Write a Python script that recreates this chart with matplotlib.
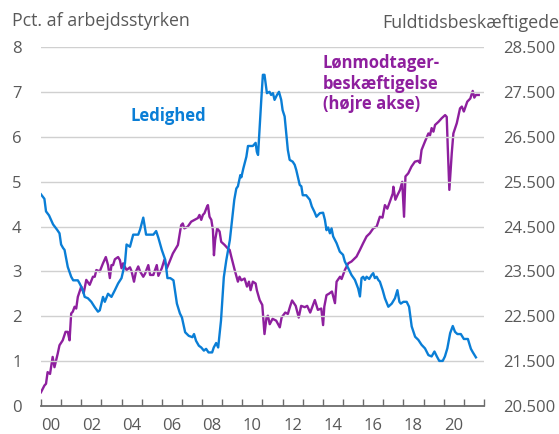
import matplotlib
matplotlib.use("Agg")
import matplotlib.pyplot as plt
from matplotlib.ticker import FuncFormatter, FixedLocator

plt.rcParams['font.family'] = ['Open Sans', 'DejaVu Sans']

# Ledighed (pct. af arbejdsstyrken), decimal year
led_t = [2000.00, 2000.17, 2000.25, 2000.4, 2000.6, 2000.8, 2000.92, 2001.0, 2001.1, 2001.17,
         2001.33, 2001.5, 2001.6, 2001.83, 2001.92, 2002.08, 2002.17, 2002.33, 2002.5, 2002.67,
         2002.83, 2002.92, 2003.08, 2003.17, 2003.33, 2003.5, 2003.67, 2003.83, 2004.0, 2004.17,
         2004.25, 2004.42, 2004.58, 2004.83, 2004.92, 2005.08, 2005.22, 2005.42, 2005.58, 2005.72,
         2005.83, 2006.0, 2006.17, 2006.28, 2006.42, 2006.58, 2006.75, 2006.9, 2007.0, 2007.16,
         2007.34, 2007.52, 2007.6, 2007.7, 2007.84, 2007.96, 2008.09, 2008.2, 2008.32, 2008.5,
         2008.58, 2008.7, 2008.8, 2008.94, 2009.08, 2009.2, 2009.38, 2009.5, 2009.6, 2009.7,
         2009.78, 2009.9, 2009.95, 2010.05, 2010.2, 2010.28, 2010.52, 2010.66, 2010.72, 2010.78,
         2010.86, 2010.94, 2011.02, 2011.1, 2011.22, 2011.35, 2011.43, 2011.52, 2011.6, 2011.72,
         2011.82, 2011.93, 2012.0, 2012.1, 2012.18, 2012.26, 2012.35, 2012.5, 2012.6, 2012.68,
         2012.85, 2012.93, 2013.0, 2013.17, 2013.35, 2013.45, 2013.58, 2013.68, 2013.85, 2014.01,
         2014.1, 2014.18, 2014.26, 2014.35, 2014.43, 2014.51, 2014.68, 2014.84, 2015.0, 2015.09,
         2015.26, 2015.42, 2015.59, 2015.75, 2015.84, 2015.92, 2016.0, 2016.09, 2016.17, 2016.3,
         2016.42, 2016.5, 2016.58, 2016.67, 2016.75, 2016.83, 2016.97, 2017.08, 2017.25, 2017.42,
         2017.58, 2017.7, 2017.8, 2017.87, 2018.0, 2018.16, 2018.28, 2018.41, 2018.58, 2018.74,
         2018.9, 2019.07, 2019.24, 2019.4, 2019.54, 2019.66, 2019.78, 2019.95, 2020.06, 2020.18,
         2020.32, 2020.45, 2020.56, 2020.68, 2020.85, 2021.0, 2021.2, 2021.35, 2021.45, 2021.6]
led_v = [4.72, 4.62, 4.34, 4.25, 4.05, 3.93, 3.85, 3.6, 3.52, 3.48,
         3.1, 2.88, 2.8, 2.8, 2.73, 2.58, 2.43, 2.4, 2.32, 2.2,
         2.1, 2.13, 2.43, 2.32, 2.5, 2.43, 2.58, 2.73, 2.85, 3.18,
         3.6, 3.55, 3.82, 3.82, 3.93, 4.2, 3.82, 3.82, 3.82, 3.9,
         3.75, 3.48, 3.26, 2.85, 2.85, 2.8, 2.28, 2.06, 1.97, 1.64,
         1.56, 1.53, 1.6, 1.45, 1.34, 1.3, 1.23, 1.27, 1.19, 1.19,
         1.3, 1.4, 1.3, 1.9, 2.87, 3.24, 3.7, 4.2, 4.6, 4.85,
         4.9, 5.15, 5.1, 5.3, 5.56, 5.8, 5.8, 5.87, 5.67, 5.6,
         6.23, 6.83, 7.39, 7.39, 6.98, 7.01, 6.94, 6.98, 6.83, 6.94,
         7.01, 6.83, 6.6, 6.46, 6.08, 5.71, 5.49, 5.45, 5.38, 5.26,
         4.93, 4.9, 4.7, 4.7, 4.6, 4.45, 4.33, 4.22, 4.3, 4.31,
         4.15, 3.92, 3.98, 3.85, 3.96, 3.78, 3.63, 3.44, 3.37, 3.22,
         3.07, 2.92, 2.81, 2.62, 2.44, 2.85, 2.88, 2.81, 2.88, 2.83,
         2.92, 2.96, 2.85, 2.88, 2.81, 2.77, 2.58, 2.4, 2.21, 2.28,
         2.4, 2.58, 2.32, 2.28, 2.32, 2.32, 2.21, 1.77, 1.54, 1.47,
         1.36, 1.28, 1.13, 1.1, 1.21, 1.1, 1.0, 1.0, 1.1, 1.28,
         1.62, 1.78, 1.65, 1.6, 1.6, 1.49, 1.49, 1.27, 1.19, 1.08]

# Lønmodtagerbeskæftigelse (højre akse)
bes_t = [2000.0, 2000.17, 2000.25, 2000.33, 2000.45, 2000.58, 2000.67, 2000.83, 2000.92, 2001.08,
         2001.22, 2001.33, 2001.42, 2001.5, 2001.58, 2001.67, 2001.75, 2001.83, 2002.0, 2002.12,
         2002.25, 2002.42, 2002.58, 2002.67, 2002.75, 2002.92, 2003.08, 2003.22, 2003.33, 2003.42,
         2003.5, 2003.58, 2003.67, 2003.83, 2003.92, 2004.0, 2004.08, 2004.25, 2004.42, 2004.5,
         2004.62, 2004.72, 2004.83, 2004.92, 2005.08, 2005.17, 2005.33, 2005.42, 2005.58, 2005.75,
         2005.83, 2006.0, 2006.13, 2006.25, 2006.38, 2006.55, 2006.8, 2006.96, 2007.04, 2007.12,
         2007.29, 2007.46, 2007.62, 2007.79, 2007.87, 2007.96, 2008.04, 2008.12, 2008.24, 2008.29,
         2008.37, 2008.46, 2008.54, 2008.59, 2008.65, 2008.75, 2008.87, 2008.95, 2009.12, 2009.28,
         2009.37, 2009.45, 2009.62, 2009.78, 2009.86, 2009.95, 2010.11, 2010.23, 2010.33, 2010.41,
         2010.52, 2010.66, 2010.72, 2010.86, 2010.99, 2011.1, 2011.2, 2011.27, 2011.36, 2011.5,
         2011.68, 2011.86, 2011.95, 2012.13, 2012.26, 2012.38, 2012.47, 2012.65, 2012.8, 2012.92,
         2013.1, 2013.22, 2013.37, 2013.6, 2013.75, 2013.92, 2014.01, 2014.07, 2014.18, 2014.3,
         2014.45, 2014.6, 2014.68, 2014.85, 2014.93, 2015.09, 2015.26, 2015.42, 2015.67, 2015.84,
         2016.0, 2016.17, 2016.33, 2016.5, 2016.67, 2016.83, 2016.96, 2017.08, 2017.2, 2017.33,
         2017.47, 2017.5, 2017.6, 2017.7, 2017.83, 2017.94, 2018.03, 2018.1, 2018.24, 2018.4,
         2018.57, 2018.74, 2018.82, 2018.9, 2019.07, 2019.24, 2019.32, 2019.4, 2019.49, 2019.57,
         2019.74, 2019.9, 2020.07, 2020.15, 2020.2, 2020.28, 2020.4, 2020.48, 2020.65, 2020.81,
         2020.9, 2021.0, 2021.17, 2021.32, 2021.44, 2021.52, 2021.6, 2021.74]
bes_v = [20800, 20950, 20990, 21250, 21210, 21590, 21360, 21660, 21850, 21960,
         22150, 22150, 21960, 22560, 22600, 22710, 22670, 22930, 23160, 23010,
         23310, 23200, 23380, 23380, 23530, 23500, 23680, 23820, 23640, 23350,
         23640, 23640, 23770, 23820, 23750, 23570, 23680, 23530, 23590, 23500,
         23270, 23500, 23610, 23500, 23380, 23450, 23640, 23420, 23420, 23640,
         23400, 23570, 23760, 23570, 23710, 23900, 24090, 24530, 24570, 24460,
         24500, 24610, 24650, 24690, 24760, 24650, 24760, 24800, 24940, 24980,
         24720, 24650, 24420, 23860, 24200, 24460, 24390, 24160, 24090, 24010,
         23980, 23830, 23530, 23270, 23380, 23300, 23340, 23160, 23270, 23080,
         23270, 23230, 23080, 22860, 22750, 22100, 22470, 22510, 22320, 22440,
         22400, 22250, 22470, 22580, 22550, 22730, 22850, 22730, 22470, 22730,
         22700, 22730, 22580, 22860, 22640, 22670, 22300, 22710, 22970, 23000,
         23050, 22790, 23270, 23380, 23330, 23530, 23680, 23720, 23830, 23980,
         24130, 24280, 24350, 24460, 24500, 24720, 24700, 24980, 24900, 25060,
         25240, 25390, 25100, 25200, 25320, 25500, 24720, 25620, 25690, 25840,
         25950, 25970, 25920, 26210, 26400, 26580, 26540, 26700, 26620, 26770,
         26840, 26920, 26990, 26950, 26290, 25320, 26140, 26580, 26810, 27140,
         27180, 27070, 27290, 27360, 27530, 27380, 27440, 27440]

year_ticks = list(range(2000, 2023))
label_years = list(range(2000, 2021, 2))
left_ticks = [0, 1, 2, 3, 4, 5, 6, 7, 8]

blue = '#0A7ED6'
purple = '#8E1F9E'
grey_txt = '#595959'

fig = plt.figure(figsize=(5.59, 4.34), dpi=100)
ax = fig.add_axes([0.0733, 0.0652, 0.7925, 0.8254])
ax2 = ax.twinx()

ax.set_xlim(2000, 2022)
ax.set_ylim(0, 8)
ax2.set_ylim(20500, 28500)

for y in left_ticks[1:]:
    ax.axhline(y, color='#d0d0d0', lw=1.0, zorder=0)

ax.plot(led_t, led_v, color=blue, lw=1.7, zorder=3, solid_joinstyle='round')
ax2.plot(bes_t, bes_v, color=purple, lw=1.7, zorder=2, solid_joinstyle='round')
ax.set_zorder(ax2.get_zorder() + 1)
ax.patch.set_visible(False)

for a in (ax, ax2):
    for s in a.spines.values():
        s.set_visible(False)
ax.spines['bottom'].set_visible(True)
ax.spines['bottom'].set_color('#6b6b6b')
ax.spines['bottom'].set_linewidth(1.3)

ax.xaxis.set_major_locator(FixedLocator(year_ticks))
ax.set_xticklabels([])
ax.tick_params(axis='x', which='major', direction='in', length=5, width=1.0, color='#6b6b6b')
ax.xaxis.set_minor_locator(FixedLocator([y + 0.5 for y in label_years]))
ax.xaxis.set_minor_formatter(FuncFormatter(lambda v, p: f"{int(v) % 100:02d}"))
ax.tick_params(axis='x', which='minor', length=0, pad=9, labelsize=12, labelcolor=grey_txt)

ax.set_yticks(left_ticks)
ax.tick_params(axis='y', length=0, pad=14, labelsize=12, labelcolor=grey_txt)
ax2.set_yticks([20500 + 1000 * k for k in range(9)])
ax2.yaxis.set_major_formatter(FuncFormatter(lambda v, p: f"{int(v):,}".replace(',', '.')))
ax2.tick_params(axis='y', length=0, pad=14, labelsize=12, labelcolor=grey_txt)

fig.text(12 / 559, 1 - 26 / 434, 'Pct. af arbejdsstyrken', fontsize=12.8, color=grey_txt,
         ha='left', va='baseline')
fig.text(382 / 559, 1 - 28 / 434, 'Fuldtidsbeskæftigede', fontsize=12.9, color=grey_txt,
         ha='left', va='baseline')

ax.text(2006.3, 6.46, 'Ledighed', color=blue, fontsize=12, fontweight='bold',
        ha='center', va='center')
ax.text(2014.0, 7.86, 'Lønmodtager-\nbeskæftigelse\n(højre akse)', color=purple, fontsize=12,
        fontweight='bold', ha='left', va='top', linespacing=1.2)

fig.savefig('out.png', dpi=100)
